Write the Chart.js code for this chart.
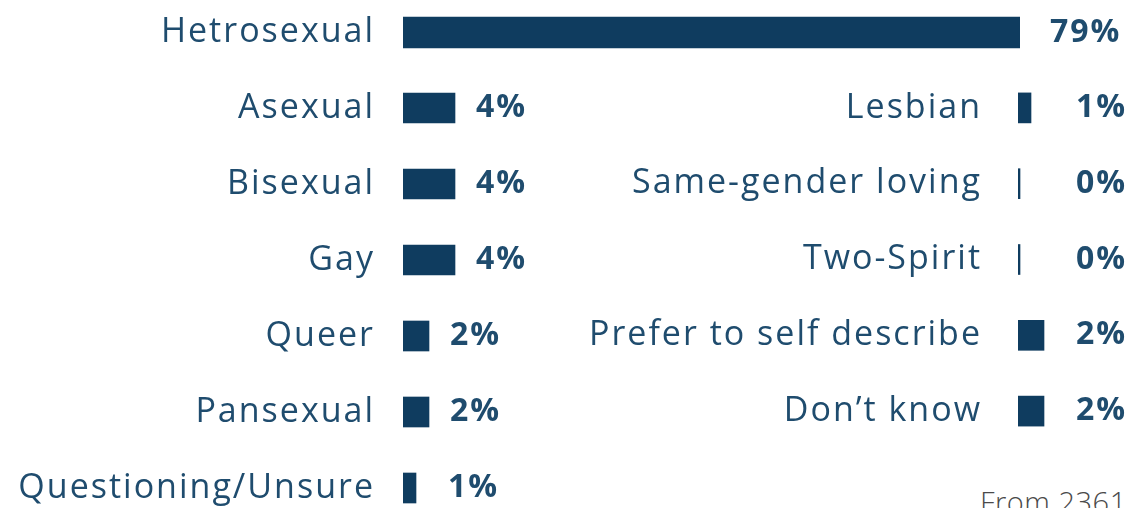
<!DOCTYPE html>
<html>
<head>
<meta charset="utf-8">
<script src="https://cdn.jsdelivr.net/npm/chart.js@4.4.1/dist/chart.umd.min.js"></script>
<style>
  html, body { margin: 0; padding: 0; background: #fff; overflow: hidden; }
  body { width: 1133px; height: 508px; position: relative; }
  .box { position: absolute; }
  #note { position: absolute; left: 980px; top: 482px; font: 300 29px "Open Sans", sans-serif; color: #4a4a4a; white-space: nowrap; letter-spacing: 0.5px; }
</style>
</head>
<body>
<div class="box" style="left:0;top:0;width:1133px;height:65px"><canvas id="topChart"></canvas></div>
<div class="box" style="left:0;top:0;width:580px;height:526px"><canvas id="leftChart"></canvas></div>
<div class="box" style="left:580px;top:0;width:553px;height:449px"><canvas id="rightChart"></canvas></div>
<div id="note">From 2361</div>
<script>
  // data
  const topLabels = ["Hetrosexual"];
  const topValues = [79];
  const leftLabels = ["Asexual", "Bisexual", "Gay", "Queer", "Pansexual", "Questioning/Unsure"];
  const leftValues = [4, 4, 4, 2, 2, 1];
  const rightLabels = ["Lesbian", "Same-gender loving", "Two-Spirit", "Prefer to self describe", "Don\u2019t know"];
  const rightValues = [1, 0, 0, 2, 2];

  const barColor = "#0f3c5f";
  const textColor = "#1f4c6e";

  // wider spacing so the fallback font sits closer to the original
  const spacing = {
    id: "spacing",
    beforeDraw(chart) { chart.ctx.letterSpacing = "2px"; },
  };

  // writes the "n%" next to each bar
  const valueLabels = {
    id: "valueLabels",
    afterDatasetsDraw(chart, args, opts) {
      const ctx = chart.ctx;
      const meta = chart.getDatasetMeta(0);
      ctx.save();
      ctx.font = "700 32px 'Open Sans'";
      ctx.letterSpacing = "2px";
      ctx.fillStyle = textColor;
      ctx.textBaseline = "middle";
      meta.data.forEach((bar, i) => {
        const txt = chart.data.datasets[0].data[i] + "%";
        if (opts.right != null) {
          ctx.textAlign = "right";
          ctx.fillText(txt, chart.width - opts.right, bar.y);
        } else {
          ctx.textAlign = "left";
          ctx.fillText(txt, Math.max(bar.x + opts.gap, chart.chartArea.left + opts.minX), bar.y);
        }
      });
      ctx.restore();
    }
  };

  function makeChart(id, labels, values, o) {
    return new Chart(document.getElementById(id), {
      type: "bar",
      data: {
        labels: labels,
        datasets: [{
          data: values,
          backgroundColor: barColor,
          barThickness: o.thickness,
          minBarLength: 2,
        }],
      },
      plugins: [spacing, valueLabels],
      options: {
        indexAxis: "y",
        responsive: true,
        maintainAspectRatio: false,
        animation: false,
        layout: { padding: { top: o.top, right: o.padRight, bottom: 0, left: 0 } },
        scales: {
          x: { display: false, min: 0, max: o.max },
          y: {
            grid: { display: false, drawTicks: false },
            border: { display: false },
            ticks: {
              color: textColor,
              padding: o.labelPad,
              font: { family: "Open Sans", weight: "400", size: 34 },
            },
            afterFit(scale) {
              scale.width = o.axisWidth;
              scale.paddingTop = 0;
              scale.paddingBottom = 0;
            },
          },
        },
        plugins: {
          legend: { display: false },
          tooltip: { enabled: false },
          valueLabels: o.values,
        },
      },
    });
  }

  makeChart("topChart", topLabels, topValues, {
    thickness: 31, top: 0, padRight: 113, max: 79, axisWidth: 403, labelPad: 28,
    values: { gap: 30, minX: 0 },
  });
  makeChart("leftChart", leftLabels, leftValues, {
    thickness: 30, top: 70, padRight: 47, max: 10, axisWidth: 403, labelPad: 28,
    values: { gap: 21, minX: 45 },
  });
  makeChart("rightChart", rightLabels, rightValues, {
    thickness: 30, top: 70, padRight: 63, max: 4, axisWidth: 438, labelPad: 36,
    values: { right: 6 },
  });
</script>
</body>
</html>
